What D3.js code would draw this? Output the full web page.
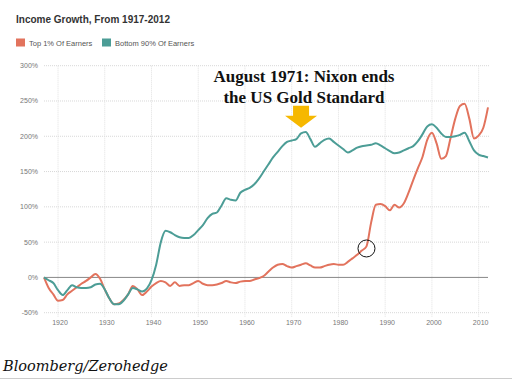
<!DOCTYPE html>
<html>
<head>
<meta charset="utf-8">
<script src="https://cdn.jsdelivr.net/npm/d3@7"></script>
<style>
  body { margin: 0; background: #fff; }
  svg { display: block; }
</style>
</head>
<body>
<div class="viz"></div>
<script>
// Data: income growth since 1917, percent
const years = d3.range(1917, 2013);

const top1 = [
  0, -15, -24, -33, -32, -24, -19, -14, -9, -5, 0, 5, -2, -17, -30, -38, -37,
  -32, -24, -12, -17, -25, -20, -13, -8, -5, -7, -12, -7, -12, -11, -11, -8,
  -5, -9, -11, -11, -10, -8, -5, -7, -8, -6, -5, -5, -3, -1, 2, 8, 14, 18, 19,
  16, 14, 16, 18, 20, 17, 14, 14, 16, 18, 19, 18, 18, 22, 27, 32, 38, 44, 78,
  103, 104, 101, 95, 103, 99, 105, 120, 138, 155, 171, 195, 205, 190, 168,
  172, 198, 225, 243, 246, 225, 197, 201, 212, 241,
];

const bottom90 = [
  0, -4, -8, -18, -25, -18, -11, -14, -15, -15, -14, -10, -9, -17, -30, -38,
  -38, -33, -24, -15, -17, -20, -16, -4, 18, 50, 66, 64, 60, 57, 56, 56, 60,
  67, 74, 84, 90, 92, 102, 112, 110, 109, 120, 124, 127, 132, 140, 150, 160,
  170, 178, 186, 192, 194, 196, 204, 206, 196, 185, 190, 195, 197, 192, 187,
  182, 177, 180, 184, 186, 187, 188, 190, 187, 183, 179, 176, 177, 180, 183,
  186, 193, 203, 214, 217, 212, 204, 199, 199, 200, 202, 205, 193, 180, 174,
  172, 170,
];

const yTicks = [-50, 0, 50, 100, 150, 200, 250, 300];
const xTicks = d3.range(1920, 2011, 10);

const seriesNames = ["Top 1% Of Earners", "Bottom 90% Of Earners"];
const colors = ["#e2735d", "#4c9d96"];

// Annotations (data coordinates)
const nixonYear = 1972;
const nixonValue = 212;
const circleYear = 1986;
const circleValue = 41;

const totalWidth = 515;
const totalHeight = 385;

const svg = d3
  .select(".viz")
  .append("svg")
  .attr("width", totalWidth)
  .attr("height", totalHeight);

// Scales
const xScale = d3.scaleLinear().domain([1917, 2012]).range([44, 488]);
const yScale = d3.scaleLinear().domain([-50, 300]).range([312.7, 65.7]);

// Title
svg.append("text")
  .attr("x", 16)
  .attr("y", 23)
  .attr("fill", "#333")
  .style("font-family", "'Liberation Sans', Arial, sans-serif")
  .style("font-weight", "bold")
  .style("font-size", "10px")
  .text("Income Growth, From 1917-2012");

// Legend
const legendX = [16, 102];
seriesNames.forEach((name, i) => {
  svg.append("rect")
    .attr("x", legendX[i])
    .attr("y", 38.5)
    .attr("width", 9)
    .attr("height", 8)
    .attr("fill", colors[i]);
  svg.append("text")
    .attr("x", legendX[i] + 13)
    .attr("y", 45.5)
    .attr("fill", "#555")
    .style("font-family", "'Liberation Sans', Arial, sans-serif")
    .style("font-size", "7.5px")
    .text(name);
});

// Grid lines
svg.append("g")
  .selectAll("line")
  .data(yTicks.filter((d) => d !== 0))
  .enter()
  .append("line")
  .attr("x1", xScale(1917))
  .attr("x2", xScale(2012) + 2)
  .attr("y1", (d) => yScale(d))
  .attr("y2", (d) => yScale(d))
  .attr("stroke", "#d8d8d8")
  .attr("stroke-width", 1)
  .attr("stroke-dasharray", "1,1");

svg.append("g")
  .selectAll("line")
  .data(xTicks)
  .enter()
  .append("line")
  .attr("x1", (d) => xScale(d))
  .attr("x2", (d) => xScale(d))
  .attr("y1", yScale(300))
  .attr("y2", yScale(-50) + 4)
  .attr("stroke", "#e0e0e0")
  .attr("stroke-width", 1)
  .attr("stroke-dasharray", "1,1");

// Axis labels
const axisFont = "'Liberation Sans', Arial, sans-serif";
svg.append("g")
  .selectAll("text")
  .data(yTicks)
  .enter()
  .append("text")
  .attr("x", 38)
  .attr("y", (d) => yScale(d) + 2.5)
  .attr("text-anchor", "end")
  .attr("fill", "#777")
  .style("font-family", axisFont)
  .style("font-size", "7px")
  .text((d) => d + "%");

svg.append("g")
  .selectAll("text")
  .data(xTicks)
  .enter()
  .append("text")
  .attr("x", (d) => xScale(d) + 2)
  .attr("y", 325)
  .attr("text-anchor", "middle")
  .attr("fill", "#777")
  .style("font-family", axisFont)
  .style("font-size", "7px")
  .text((d) => d);

// Zero line
svg.append("line")
  .attr("x1", xScale(1917))
  .attr("x2", xScale(2012))
  .attr("y1", yScale(0))
  .attr("y2", yScale(0))
  .attr("stroke", "#888")
  .attr("stroke-width", 1);

// Series lines
const line = d3
  .line()
  .x((d, i) => xScale(years[i]))
  .y((d) => yScale(d))
  .curve(d3.curveMonotoneX);

[top1, bottom90].forEach((values, i) => {
  svg.append("path")
    .datum(values)
    .attr("fill", "none")
    .attr("stroke", colors[i])
    .attr("stroke-width", 2)
    .attr("stroke-linejoin", "round")
    .attr("d", line);
});

// Nixon annotation
const serif = "'Liberation Serif', 'Times New Roman', serif";
const noteText = svg.append("text")
  .attr("text-anchor", "middle")
  .attr("fill", "#111")
  .style("font-family", serif)
  .style("font-weight", "bold")
  .style("font-size", "17px");
noteText.append("tspan").attr("x", 304).attr("y", 82).text("August 1971: Nixon ends");
noteText.append("tspan").attr("x", 304).attr("y", 103).text("the US Gold Standard");

const ax = xScale(nixonYear);
const tipY = yScale(nixonValue);
svg.append("path")
  .attr("d", `M${ax - 8},${tipY - 22} L${ax + 8},${tipY - 22} L${ax + 8},${tipY - 12}
    L${ax + 16},${tipY - 12} L${ax},${tipY} L${ax - 16},${tipY - 12} L${ax - 8},${tipY - 12} Z`)
  .attr("fill", "#f6b800");

// Circle marker
svg.append("circle")
  .attr("cx", xScale(circleYear))
  .attr("cy", yScale(circleValue))
  .attr("r", 8.5)
  .attr("fill", "none")
  .attr("stroke", "#111")
  .attr("stroke-width", 1);

// Source
svg.append("text")
  .attr("x", 3)
  .attr("y", 371)
  .attr("fill", "#111")
  .style("font-family", "'DejaVu Serif', serif")
  .style("font-style", "italic")
  .style("font-size", "14.5px")
  .text("Bloomberg/Zerohedge");

svg.append("line")
  .attr("x1", 0)
  .attr("x2", 512)
  .attr("y1", 378.5)
  .attr("y2", 378.5)
  .attr("stroke", "#ccc")
  .attr("stroke-width", 1);
</script>
</body>
</html>
